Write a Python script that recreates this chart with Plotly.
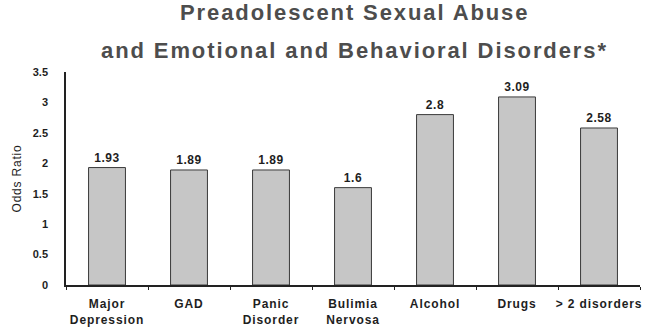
import plotly.graph_objects as go

categories = ["Major Depression", "GAD", "Panic Disorder", "Bulimia Nervosa",
              "Alcohol", "Drugs", "> 2 disorders"]
category_labels = ["Major<br>Depression", "GAD", "Panic<br>Disorder", "Bulimia<br>Nervosa",
                   "Alcohol", "Drugs", "&gt; 2 disorders"]
odds_ratio = [1.93, 1.89, 1.89, 1.6, 2.8, 3.09, 2.58]
value_labels = ["1.93", "1.89", "1.89", "1.6", "2.8", "3.09", "2.58"]
y_ticks = [0, 0.5, 1, 1.5, 2, 2.5, 3, 3.5]
y_tick_labels = ["0", "0.5", "1", "1.5", "2", "2.5", "3", "3.5"]
title_lines = ["Preadolescent Sexual Abuse", "and Emotional and Behavioral Disorders*"]

font_family = "Liberation Sans, Arial, sans-serif"


def spaced(text, px):
    return f'<span style="letter-spacing:{px}px">{text}</span>'


def spaced_lines(text, px):
    return "<br>".join(spaced(part, px) for part in text.split("<br>"))


fig = go.Figure(go.Bar(
    x=categories,
    y=odds_ratio,
    width=0.45,
    text=[spaced(v, 0.6) for v in value_labels],
    textposition="outside",
    textfont=dict(family=font_family, size=12, color="#1e1e1e", weight="bold"),
    cliponaxis=False,
    marker=dict(color="#c6c6c6", line=dict(color="#3a3a3a", width=1)),
))

# two-line heading, each line placed on its own
for line, ypos in zip(title_lines, [1.277, 1.101]):
    fig.add_annotation(
        text=spaced(line, 1.9), x=0.502, y=ypos, xref="paper", yref="paper",
        xanchor="center", yanchor="middle", showarrow=False,
        font=dict(family=font_family, size=22, color="#4d4d4d", weight="bold"),
    )

fig.update_layout(
    width=645, height=331,
    margin=dict(l=66, r=3, t=72, b=46),
    paper_bgcolor="white", plot_bgcolor="white",
    showlegend=False,
    xaxis=dict(
        type="category",
        range=[-0.5, 6.5],
        tickvals=categories,
        ticktext=[spaced_lines(c, 0.9) for c in category_labels],
        tickangle=0,
        ticklabelstandoff=7,
        showline=True, linecolor="#222222", linewidth=1.5,
        ticks="outside", tickson="boundaries", ticklen=3, tickcolor="#222222",
        tickfont=dict(family=font_family, size=12, color="#1e1e1e", weight="bold"),
        showgrid=False,
    ),
    yaxis=dict(
        range=[0, 3.5],
        tickvals=y_ticks, ticktext=y_tick_labels,
        showline=True, linecolor="#222222", linewidth=1.5,
        ticks="", ticklabelstandoff=14,
        tickfont=dict(family=font_family, size=11, color="#1e1e1e", weight="bold"),
        showgrid=False, zeroline=False,
        title=dict(text=spaced("Odds Ratio", 0.8), standoff=9,
                   font=dict(family=font_family, size=12, color="#1e1e1e")),
    ),
)

fig.write_html("out.html")
